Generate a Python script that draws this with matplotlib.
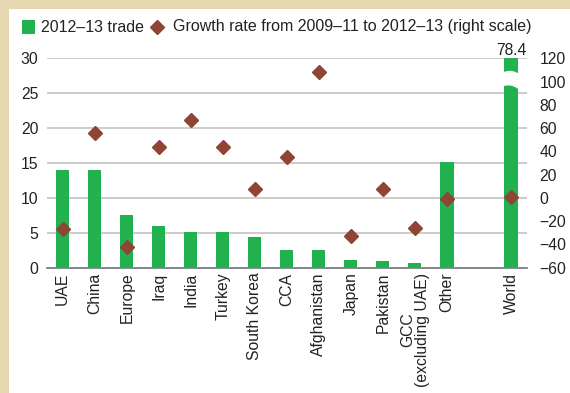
import numpy as np
import matplotlib.pyplot as plt
from matplotlib.patches import Rectangle, Polygon

plt.rcParams['font.family'] = ['Liberation Sans', 'DejaVu Sans']

# data
categories = ['UAE', 'China', 'Europe', 'Iraq', 'India', 'Turkey', 'South Korea',
              'CCA', 'Afghanistan', 'Japan', 'Pakistan', 'GCC\n(excluding UAE)',
              'Other', '', 'World']
trade = [14.0, 14.0, 7.5, 6.0, 5.1, 5.1, 4.4, 2.5, 2.5, 1.1, 0.95, 0.7, 15.1, np.nan, 78.4]
growth = [-27, 56, -42.5, 43.5, 67, 43.5, 7.5, 35, 108, -32.5, 8, -25.5, -1, np.nan, 1]

green = '#21b24f'
brown = '#8e4535'
tan = '#e6d7b3'
txt = '#222222'
fs = 11.3

fig = plt.figure(figsize=(5.70, 3.93), dpi=100, facecolor=tan)
# white panel
fig.patches.append(Rectangle((9 / 570, 0), 1, 1 - 9 / 393, transform=fig.transFigure,
                             facecolor='white', edgecolor='none', zorder=-5))

ax = fig.add_axes([46.7 / 570, 1 - 267.7 / 393, (527 - 46.7) / 570, (267.7 - 58.3) / 393])
ax.set_facecolor('none')
x = np.arange(len(categories))

ax.bar(x, trade, width=0.41, color=green, zorder=2)
ax.set_ylim(0, 30)
ax.set_xlim(-0.5, 14.5)
ax.set_yticks(range(0, 31, 5))
ax.grid(axis='y', color='#c4c4c4', linewidth=1.2, zorder=0)
ax.set_axisbelow(True)
for s in ['top', 'right', 'left']:
    ax.spines[s].set_visible(False)
ax.spines['bottom'].set_color('#808080')
ax.spines['bottom'].set_linewidth(1.3)
ax.spines['bottom'].set_zorder(3)
ax.tick_params(axis='y', length=0, labelsize=fs, colors=txt, pad=6)
ax.tick_params(axis='x', length=0, labelsize=fs, colors=txt, pad=3.5)
ax.set_xticks(x)
ax.set_xticklabels(categories, rotation=90, linespacing=1.0)

# break in the World bar
w = x[-1]
bx = np.linspace(w - 0.25, w + 0.25, 20)
t = (bx - bx[0]) / (bx[-1] - bx[0])
top_edge = 28.0 + 0.3 * np.sin(np.pi * t) - 0.2 * t
bot_edge = 26.0 + 0.3 * np.sin(np.pi * t) - 0.45 * t
pts = list(zip(bx, top_edge)) + list(zip(bx[::-1], bot_edge[::-1]))
ax.add_patch(Polygon(pts, closed=True, facecolor='white', edgecolor='none', zorder=2.5))
ax.text(w, 30.45, '78.4', ha='center', va='baseline', fontsize=fs, color=txt)

ax2 = ax.twinx()
ax2.plot(x, growth, linestyle='none', marker='D', markersize=7.5, color=brown, zorder=4)
ax2.set_ylim(-60, 120)
ax2.set_yticks(range(-60, 121, 20))
ax2.set_yticklabels([str(v).replace('-', '\u2212') for v in range(-60, 121, 20)])
for s in ax2.spines.values():
    s.set_visible(False)
ax2.tick_params(axis='y', length=0, labelsize=fs, colors=txt, pad=9)

# legend
ly = 1 - 27 / 393
fig.patches.append(Rectangle((22 / 570, ly - 6.5 / 393), 13 / 570, 13 / 393,
                             transform=fig.transFigure, facecolor=green, edgecolor='none'))
fig.text(41 / 570, ly, '2012\u201313 trade', fontsize=fs + 0.2, va='center', color=txt)
fig.lines.append(plt.Line2D([157 / 570], [ly], transform=fig.transFigure,
                            marker='D', markersize=7.5, color=brown, linestyle='none'))
fig.text(173 / 570, ly, 'Growth rate from 2009\u201311 to 2012\u201313 (right scale)',
         fontsize=fs + 0.2, va='center', color=txt)

fig.savefig('out.png', dpi=100, facecolor=tan)
